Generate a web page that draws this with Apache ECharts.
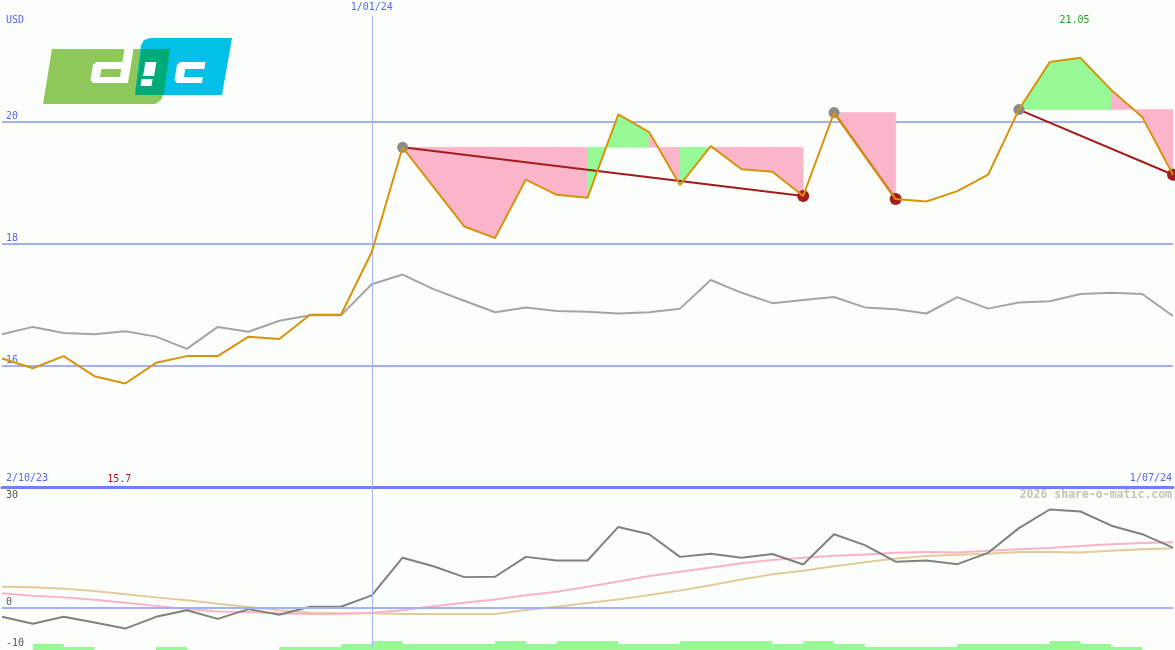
<!DOCTYPE html>
<html><head><meta charset="utf-8">
<script src="https://cdn.jsdelivr.net/npm/echarts@6/dist/echarts.min.js"></script>
<style>html,body{margin:0;padding:0;background:#fbfefb;}#c{width:1175px;height:650px;}</style>
</head><body><div id="c"></div><script>
// ---- data ----
const weeks = ['9/10/23','16/10/23','23/10/23','30/10/23','6/11/23','13/11/23','20/11/23','27/11/23','4/12/23','11/12/23','18/12/23','25/12/23','1/01/24','8/01/24','15/01/24','22/01/24','29/01/24','5/02/24','12/02/24','19/02/24','26/02/24','4/03/24','11/03/24','18/03/24','25/03/24','1/04/24','8/04/24','15/04/24','22/04/24','29/04/24','6/05/24','13/05/24','20/05/24','27/05/24','3/06/24','10/06/24','17/06/24','24/06/24','1/07/24'];
const price = [16.11,15.95,16.15,15.82,15.70,16.04,16.15,16.15,16.47,16.43,16.83,16.83,17.86,19.58,18.93,18.28,18.09,19.05,18.80,18.75,20.12,19.83,18.96,19.60,19.22,19.18,18.78,20.15,19.44,18.73,18.69,18.86,19.13,20.20,20.98,21.05,20.52,20.08,19.13];
const indexLine = [16.51,16.63,16.53,16.51,16.56,16.47,16.27,16.63,16.55,16.73,16.82,16.82,17.33,17.49,17.25,17.06,16.87,16.95,16.89,16.88,16.85,16.87,16.93,17.40,17.19,17.02,17.07,17.12,16.95,16.92,16.85,17.12,16.93,17.03,17.05,17.17,17.19,17.17,16.81];
const relPerf = [-2.3,-4.0,-2.3,-3.7,-5.2,-2.3,-0.7,-2.8,-0.4,-1.8,0.2,0.2,3.0,12.3,10.2,7.5,7.6,12.5,11.6,11.6,19.9,18.1,12.5,13.3,12.3,13.2,10.6,18.1,15.4,11.3,11.6,10.7,13.5,19.6,24.2,23.7,20.2,18.1,14.8];
const avgFast = [3.5,2.9,2.5,1.9,1.2,0.4,-0.4,-1.0,-1.1,-1.4,-1.6,-1.6,-1.3,-0.7,0.3,1.2,2.0,3.0,3.9,5.1,6.4,7.8,8.8,9.9,10.9,11.7,12.3,12.8,13.1,13.5,13.7,13.6,14.0,14.4,14.7,15.2,15.6,15.9,16.1];
const avgSlow = [5.1,5.0,4.6,4.1,3.3,2.5,1.8,0.9,0.1,-0.7,-1.3,-1.4,-1.4,-1.6,-1.6,-1.6,-1.6,-0.6,0.2,1.1,2.0,3.1,4.2,5.5,6.9,8.2,9.1,10.2,11.2,12.1,12.7,13.0,13.3,13.7,13.7,13.6,14.0,14.4,14.6];
const volumeLevel = [0,2,1,0,0,1,0,0,0,1,1,2,3,2,2,2,3,2,3,3,2,2,3,3,3,2,3,2,1,1,1,2,2,2,3,2,1,0,0];
const drawdowns = [[13,26],[27,29],[33,38]]; // [peak index, trough index]
const markerWeek = '1/01/24';
const rangeLabels = ['2/10/23','1/07/24'];
const unitLabel = 'USD';
const watermark = '2026 share-o-matic.com';

// ---- derived ----
const fillSegs = [];
drawdowns.forEach(([p,t]) => {
  const lvl = price[p];
  for (let i = p; i < t; i++) fillSegs.push([i, i+1, lvl, price[i], price[i+1], price[i+1] > lvl ? 1 : 0]);
});
const ddLines = drawdowns.map(([p,t]) => [p, t, price[p], price[t]]);
const peakPts = drawdowns.map(([p]) => [p, price[p]]);
const troughPts = drawdowns.map(([,t]) => [t, price[t]]);
const markIdx = weeks.indexOf(markerWeek);

const BLUE = '#5565ee';
const MONO = '"DejaVu Sans Mono", monospace';
const PINK = '#fab5ca', GREEN = '#96f996', DRED = '#a31c1c';

function catAxis(gi, extra) {
  return Object.assign({type:'category', gridIndex:gi, data:weeks, boundaryGap:false,
    axisLabel:{show:false}, axisTick:{show:false}, axisLine:{show:false}, splitLine:{show:false}}, extra || {});
}

// logo shapes (skewed)
const SK = 0.16;
function sk(pts){ return pts.map(([x,y]) => [x + (83 - y) * SK, y]); }
const logoParts = [
  {type:'polygon', shape:{points:[[43,104],[52,49],[170,49],[164,93],[161,100],[155,104]]}, style:{fill:'#8ec75a'}},
  {type:'polygon', shape:{points:[[135,95],[141,45],[144,40],[150,38],[232,38],[222,95]]}, style:{fill:'#02c0e6'}},
  {type:'polygon', shape:{points:[[135,95],[141.4,49],[170,49],[163.7,95]]}, style:{fill:'#02aa78'}},
  {type:'polygon', shape:{points:sk([[93,62],[119,62],[119,49],[128,49],[128,83],[93,83],[90,80],[90,65]])}, style:{fill:'#ffffff'}},
  {type:'polygon', shape:{points:sk([[99,69],[119,69],[119,77],[99,77]])}, style:{fill:'#8ec75a'}},
  {type:'polygon', shape:{points:sk([[142,62],[153,62],[153,76],[142,76]])}, style:{fill:'#ffffff'}},
  {type:'polygon', shape:{points:sk([[141,79],[152,79],[152,86],[141,86]])}, style:{fill:'#ffffff'}},
  {type:'polygon', shape:{points:sk([[177,62],[202,62],[202,69],[183,69],[183,77],[202,77],[202,83],[177,83],[174,80],[174,65]])}, style:{fill:'#ffffff'}}
].map(e => Object.assign(e, {silent:true, z:10}));

const chart = echarts.init(document.getElementById('c'), null, {renderer:'canvas'});
const option = {
  backgroundColor:'#fbfefb',
  animation:false,
  grid:[
    {left:2, right:2, top:0, height:487},
    {left:2, right:2, top:486, height:162},
    {left:2, right:2, top:590, bottom:0}
  ],
  xAxis:[
    catAxis(0, {axisLine:{show:true, onZero:false, lineStyle:{color:'#7080f0', width:3}}}),
    catAxis(1), catAxis(2)
  ],
  yAxis:[
    {type:'value', gridIndex:0, min:14, max:22, interval:2, axisLine:{show:false}, axisTick:{show:false},
      axisLabel:{inside:true, margin:4, verticalAlign:'bottom', color:BLUE, fontFamily:MONO, fontSize:10, showMinLabel:false, showMaxLabel:false},
      splitLine:{show:true, showMinLine:false, showMaxLine:false, lineStyle:{color:'#a3b0f2', width:2}}},
    {type:'value', gridIndex:1, min:-10, max:30, interval:10, position:'left', offset:0, axisLine:{show:false}, axisTick:{show:false},
      axisLabel:{inside:true, margin:4, verticalAlign:'bottom', color:'#555555', fontFamily:MONO, fontSize:10,
        formatter: v => (v === 0 || v === -10) ? String(v) : ''},
      splitLine:{show:false}},
    {type:'value', gridIndex:1, min:-10, max:30, interval:10, position:'left', offset:0, axisLine:{show:false}, axisTick:{show:false},
      axisLabel:{inside:true, margin:4, verticalAlign:'top', padding:[4,0,0,0], color:'#555555', fontFamily:MONO, fontSize:10,
        formatter: v => v === 30 ? '30' : ''},
      splitLine:{show:false}},
    {type:'value', gridIndex:2, min:0, max:20, show:false}
  ],
  series:[
    {type:'custom', xAxisIndex:0, yAxisIndex:0, z:1, silent:true,
      data:fillSegs, encode:{x:[0,1], y:[2,3,4]},
      renderItem:(params, api) => {
        const i0 = api.value(0), i1 = api.value(1), lvl = api.value(2), a = api.value(3), b = api.value(4), up = api.value(5);
        const pts = [api.coord([i0,lvl]), api.coord([i0,a]), api.coord([i1,b]), api.coord([i1,lvl])];
        const c = up ? GREEN : PINK;
        return {type:'polygon', shape:{points:pts}, style:{fill:c, stroke:c, lineWidth:0.6}};
      }},
    {type:'line', name:'index', xAxisIndex:0, yAxisIndex:0, data:indexLine, symbol:'none', z:2,
      lineStyle:{color:'#a4a4a4', width:2}, itemStyle:{color:'#a4a4a4'},
      markLine:{silent:true, symbol:'none', animation:false,
        lineStyle:{color:'#a8b4f8', width:1, type:'solid'},
        label:{show:true, position:'end', formatter:markerWeek, color:BLUE, fontFamily:MONO, fontSize:10, distance:3},
        data:[[{coord:[markIdx, 14]}, {coord:[markIdx, 21.74]}]]}},
    {type:'custom', xAxisIndex:0, yAxisIndex:0, z:3, silent:true,
      data:ddLines, encode:{x:[0,1], y:[2,3]},
      renderItem:(params, api) => {
        const p1 = api.coord([api.value(0), api.value(2)]), p2 = api.coord([api.value(1), api.value(3)]);
        return {type:'line', shape:{x1:p1[0], y1:p1[1], x2:p2[0], y2:p2[1]}, style:{stroke:DRED, lineWidth:2}};
      }},
    {type:'scatter', xAxisIndex:0, yAxisIndex:0, data:peakPts, symbol:'circle', symbolSize:11, z:4,
      itemStyle:{color:'#8a8a8a', opacity:1}},
    {type:'scatter', xAxisIndex:0, yAxisIndex:0, data:troughPts, symbol:'circle', symbolSize:12, z:4,
      itemStyle:{color:DRED, opacity:1}},
    {type:'line', name:'price', xAxisIndex:0, yAxisIndex:0, data:price, symbol:'none', z:5,
      lineStyle:{color:'#d8930c', width:2}, itemStyle:{color:'#d8930c'},
      markPoint:{silent:true, symbol:'circle', symbolSize:1, itemStyle:{color:'rgba(0,0,0,0)'},
        label:{show:true, position:'inside', fontFamily:MONO, fontSize:10,
          formatter: p => String(+Number(p.value).toFixed(2))},
        data:[
          {type:'max', label:{offset:[-6,-37], color:'#22a022'}},
          {type:'min', label:{offset:[-6,96], color:DRED}}
        ]}},
    {type:'line', name:'slow', xAxisIndex:1, yAxisIndex:1, data:avgSlow, symbol:'none', z:2,
      lineStyle:{color:'#e3ca9a', width:2}, itemStyle:{color:'#e3ca9a'},
      markLine:{silent:true, symbol:'none', animation:false, label:{show:false},
        data:[
          {xAxis:markIdx, lineStyle:{color:'#a8b4f8', width:1, type:'solid'}},
          {yAxis:0, lineStyle:{color:'#a3b0f2', width:2, type:'solid'}}
        ]}},
    {type:'line', name:'fast', xAxisIndex:1, yAxisIndex:1, data:avgFast, symbol:'none', z:3,
      lineStyle:{color:'#f9b2c8', width:2}, itemStyle:{color:'#f9b2c8'}},
    {type:'line', name:'rel', xAxisIndex:1, yAxisIndex:1, data:relPerf, symbol:'none', z:4,
      lineStyle:{color:'#808080', width:2}, itemStyle:{color:'#808080'}},
    {type:'line', name:'vol', xAxisIndex:2, yAxisIndex:3, data:volumeLevel, symbol:'none', step:'end', z:1,
      lineStyle:{width:0, opacity:0}, itemStyle:{color:GREEN}, areaStyle:{color:GREEN, opacity:1}}
  ],
  graphic:[
    ...logoParts,
    {type:'text', left:6, top:15, silent:true, style:{text:unitLabel, fill:BLUE, font:'10px ' + MONO}},
    {type:'text', left:6, top:473, silent:true, style:{text:rangeLabels[0], fill:BLUE, font:'10px ' + MONO}},
    {type:'text', right:3, top:473, silent:true, style:{text:rangeLabels[1], fill:BLUE, font:'10px ' + MONO}},
    {type:'text', right:3, top:489, silent:true, style:{text:watermark, fill:'#c2c2c2', font:'bold 11.5px ' + MONO}}
  ]
};
chart.setOption(option);
</script></body></html>
